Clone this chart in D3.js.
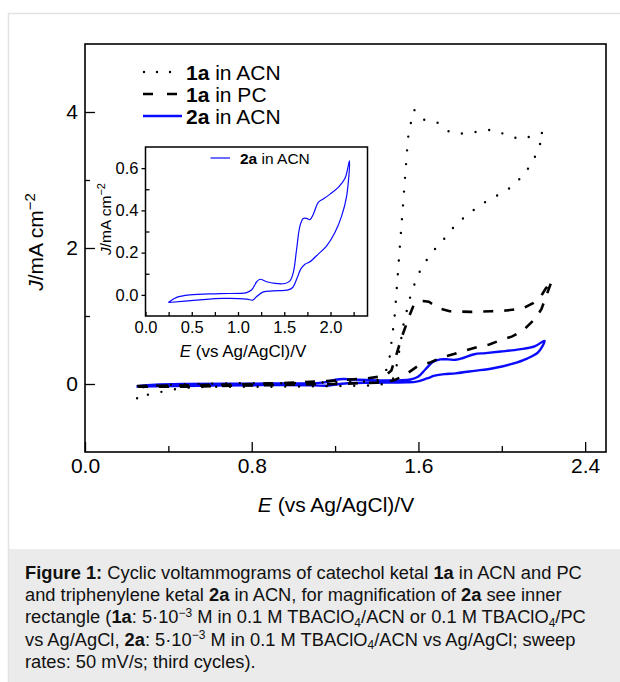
<!DOCTYPE html>
<html>
<head>
<meta charset="utf-8">
<script src="https://cdn.jsdelivr.net/npm/d3@7"></script>
<style>
  html, body { margin: 0; padding: 0; background: #fff; }
  svg { display: block; font-family: "Liberation Sans", Arial, sans-serif; }
</style>
</head>
<body>
<svg id="chart" width="620" height="682"></svg>
<script>
// ---------- DATA ----------
// 1a in ACN (dotted) : forward then reverse scan
const acnE = [0.25,0.27,0.35,0.5,0.7,0.9,1.1,1.3,1.40,1.44,1.46,1.47,1.485,1.49,1.50,1.51,1.52,1.53,1.54,1.55,1.563,1.58,1.623,1.688,1.752,1.819,1.885,1.952,2.018,2.085,2.152,2.20,
              2.181,2.152,2.107,2.043,1.976,1.911,1.843,1.778,1.722,1.664,1.616,1.586,1.563,1.546,1.53,1.515,1.50,1.485,1.47,1.40,1.2,0.9,0.6,0.509,0.443,0.376,0.308,0.251];
const acnJ = [-0.21,-0.05,-0.02,0.0,0.01,0.01,0.02,0.03,0.05,0.15,0.35,0.6,0.97,1.16,1.57,1.99,2.39,2.80,3.21,3.62,3.83,4.03,3.89,3.85,3.70,3.68,3.71,3.74,3.67,3.60,3.65,3.70,
              3.50,3.29,3.08,2.89,2.77,2.66,2.51,2.34,2.13,1.93,1.72,1.51,1.31,1.10,0.91,0.62,0.34,0.12,0.03,-0.02,-0.03,-0.04,-0.04,-0.05,-0.07,-0.11,-0.15,-0.21];

// 1a in PC (dashed)
const pcE = [0.25,0.5,0.8,1.0,1.2,1.35,1.44,1.47,1.49,1.52,1.54,1.56,1.58,1.62,1.65,1.70,1.75,1.85,1.95,2.02,2.10,2.15,2.19,2.21,2.24,
             2.19,2.16,2.10,2.05,1.99,1.94,1.88,1.82,1.77,1.71,1.66,1.60,1.53,1.48,1.40,1.2,0.8,0.5,0.25];
const pcJ = [-0.03,-0.02,0.0,0.02,0.05,0.08,0.12,0.2,0.39,0.69,0.86,1.03,1.18,1.22,1.21,1.11,1.07,1.06,1.07,1.08,1.11,1.19,1.30,1.40,1.52,
             1.10,0.96,0.78,0.70,0.64,0.58,0.54,0.49,0.44,0.39,0.32,0.27,0.12,0.05,0.02,0.0,-0.02,-0.04,-0.04];

// 2a in ACN (solid blue) - also shown in the inset
const triE = [0.247,0.337,0.481,0.805,1.094,1.148,1.202,1.238,1.31,1.40,1.508,1.562,1.598,1.634,1.670,1.706,1.742,1.778,1.814,1.868,1.922,1.995,2.084,2.157,2.205,
              2.175,2.121,2.049,1.959,1.868,1.778,1.724,1.678,1.641,1.591,1.544,1.382,1.274,1.202,1.159,1.094,0.841,0.553,0.247];
const triJ = [-0.036,-0.012,0.0,0.006,0.011,0.024,0.062,0.074,0.062,0.054,0.054,0.066,0.106,0.217,0.327,0.362,0.362,0.356,0.382,0.438,0.454,0.477,0.509,0.552,0.635,
              0.469,0.374,0.296,0.232,0.193,0.157,0.145,0.122,0.082,0.035,0.024,0.019,0.014,-0.008,-0.025,-0.020,-0.017,-0.025,-0.036];

const mainXTicks = [0, 0.8, 1.6, 2.4];
const mainXMinor = [0.4, 1.2, 2.0];
const mainYTicks = [0, 2, 4];
const mainYMinor = [1, 3];
const insetXTicks = [0, 0.5, 1.0, 1.5, 2.0];
const insetXMinor = [0.25, 0.75, 1.25, 1.75, 2.25];
const insetYTicks = [0, 0.2, 0.4, 0.6];
const insetYMinor = [0.1, 0.3, 0.5];

// ---------- DRAW ----------
const svg = d3.select("#chart");

// page frame
svg.append("rect").attr("x",0).attr("y",0).attr("width",620).attr("height",682).attr("fill","#fff");
svg.append("rect").attr("x",9).attr("y",549).attr("width",611).attr("height",133).attr("fill","#ebebeb");
svg.append("line").attr("x1",8).attr("x2",620).attr("y1",13.5).attr("y2",13.5).attr("stroke","#e2e2e2").attr("stroke-width",1.5);
svg.append("line").attr("x1",8.5).attr("x2",8.5).attr("y1",13).attr("y2",682).attr("stroke","#e2e2e2").attr("stroke-width",1.5);

// main scales
const x = d3.scaleLinear().domain([0, 2.5]).range([85, 606]);
const y = d3.scaleLinear().domain([-1, 5]).range([452, 44]);

const zip = (E, J) => E.map((e, i) => [e, J[i]]);
const lineMain = d3.line().x(d => x(d[0])).y(d => y(d[1]));

const plot = svg.append("g");
plot.append("path").datum(zip(triE, triJ))
  .attr("d", lineMain.curve(d3.curveCatmullRom.alpha(0.5)))
  .attr("fill","none").attr("stroke","#0a0aff").attr("stroke-width",2.4);
plot.append("path")
  .attr("d", d3.line().x(d => x(d[0])).y(d => y(d[1]))(zip(pcE, pcJ)))
  .attr("fill","none").attr("stroke","#000").attr("stroke-width",2.6)
  .attr("stroke-dasharray","10,11");
plot.append("path")
  .attr("d", d3.line().x(d => x(d[0])).y(d => y(d[1]))(zip(acnE, acnJ)))
  .attr("fill","none").attr("stroke","#000").attr("stroke-width",2.4)
  .attr("stroke-linecap","round").attr("stroke-dasharray","0,13.8");

// main axes
const fsMain = 21;
function styleAxis(g, fs) {
  g.select(".domain").remove();
  g.selectAll("line").attr("stroke","#000").attr("stroke-width",1.3);
  g.selectAll("text").attr("font-size", fs).attr("fill","#000")
    .attr("font-family","'Liberation Sans', Arial, sans-serif");
}
const xAxis = svg.append("g").attr("transform","translate(0,452)")
  .call(d3.axisBottom(x).tickValues(mainXTicks).tickSize(-10).tickPadding(6).tickFormat(d3.format(".1f")));
styleAxis(xAxis, fsMain);
svg.append("g").attr("transform","translate(0,452)")
  .call(d3.axisBottom(x).tickValues(mainXMinor).tickSize(-6).tickFormat(""))
  .call(g => styleAxis(g, fsMain));
const yAxis = svg.append("g").attr("transform","translate(85,0)")
  .call(d3.axisLeft(y).tickValues(mainYTicks).tickSize(-10).tickPadding(7).tickFormat(d3.format("d")));
styleAxis(yAxis, fsMain);
svg.append("g").attr("transform","translate(85,0)")
  .call(d3.axisLeft(y).tickValues(mainYMinor).tickSize(-5).tickFormat(""))
  .call(g => styleAxis(g, fsMain));

svg.append("rect").attr("x",85).attr("y",44).attr("width",521).attr("height",408)
  .attr("fill","none").attr("stroke","#000").attr("stroke-width",1.6);

// main axis titles
const xt = svg.append("text").attr("x",336).attr("y",512).attr("text-anchor","middle").attr("font-size",fsMain);
xt.append("tspan").attr("font-style","italic").text("E");
xt.append("tspan").text(" (vs Ag/AgCl)/V");
const yt = svg.append("text").attr("transform","translate(43,242) rotate(-90)").attr("text-anchor","middle").attr("font-size",fsMain);
yt.append("tspan").attr("font-style","italic").text("J");
yt.append("tspan").text("/mA cm");
yt.append("tspan").attr("font-size",15).attr("dy",-8).text("\u22122");

// legend
const leg = svg.append("g");
const legRows = [
  {y:72, bold:"1a", rest:" in ACN", type:"dot"},
  {y:94, bold:"1a", rest:" in PC", type:"dash"},
  {y:116, bold:"2a", rest:" in ACN", type:"solid"}
];
legRows.forEach(r => {
  const l = leg.append("line").attr("y1",r.y).attr("y2",r.y).attr("fill","none");
  if (r.type === "dot") {
    l.attr("x1",144).attr("x2",172).attr("stroke","#000").attr("stroke-width",2.4)
     .attr("stroke-linecap","round").attr("stroke-dasharray","0,13");
  } else if (r.type === "dash") {
    l.attr("x1",143).attr("x2",177).attr("stroke","#000").attr("stroke-width",2.6).attr("stroke-dasharray","10,14");
  } else {
    l.attr("x1",143).attr("x2",182).attr("stroke","#0a0aff").attr("stroke-width",2.4);
  }
  const t = leg.append("text").attr("x",186).attr("y",r.y+7.5).attr("font-size",fsMain);
  t.append("tspan").attr("font-weight","bold").text(r.bold);
  t.append("tspan").text(r.rest);
});

// ---------- INSET ----------
const xi = d3.scaleLinear().domain([0, 2.4]).range([145.5, 367.5]);
const yi = d3.scaleLinear().domain([-0.1, 0.7]).range([316, 147]);
const fsIn = 16.5;
svg.append("rect").attr("x",145.5).attr("y",147).attr("width",222).attr("height",169).attr("fill","#fff");
svg.append("path").datum(zip(triE, triJ))
  .attr("d", d3.line().x(d => xi(d[0])).y(d => yi(d[1])).curve(d3.curveCatmullRom.alpha(0.5)))
  .attr("fill","none").attr("stroke","#0a0aff").attr("stroke-width",1.2);

const xiAxis = svg.append("g").attr("transform","translate(0,316)")
  .call(d3.axisBottom(xi).tickValues(insetXTicks).tickSize(-4).tickPadding(5).tickFormat(d3.format(".1f")));
styleAxis(xiAxis, fsIn);
svg.append("g").attr("transform","translate(0,316)")
  .call(d3.axisBottom(xi).tickValues(insetXMinor).tickSize(-4).tickFormat(""))
  .call(g => styleAxis(g, fsIn));
const yiAxis = svg.append("g").attr("transform","translate(145.5,0)")
  .call(d3.axisLeft(yi).tickValues(insetYTicks).tickSize(4).tickPadding(3).tickFormat(d3.format(".1f")));
styleAxis(yiAxis, fsIn);
svg.append("g").attr("transform","translate(145.5,0)")
  .call(d3.axisLeft(yi).tickValues(insetYMinor).tickSize(-4).tickFormat(""))
  .call(g => styleAxis(g, fsIn));
svg.append("rect").attr("x",145.5).attr("y",147).attr("width",222).attr("height",169)
  .attr("fill","none").attr("stroke","#000").attr("stroke-width",1.5);

const xit = svg.append("text").attr("x",243).attr("y",357).attr("text-anchor","middle").attr("font-size",17);
xit.append("tspan").attr("font-style","italic").text("E");
xit.append("tspan").text(" (vs Ag/AgCl)/V");
const yit = svg.append("text").attr("transform","translate(111,219) rotate(-90)").attr("text-anchor","middle").attr("font-size",15.5);
yit.append("tspan").attr("font-style","italic").text("J");
yit.append("tspan").text("/mA cm");
yit.append("tspan").attr("font-size",11).attr("dy",-6).text("\u22122");

svg.append("line").attr("x1",210.5).attr("x2",230).attr("y1",158).attr("y2",158)
  .attr("stroke","#0a0aff").attr("stroke-width",1.2);
const ilt = svg.append("text").attr("x",240).attr("y",163.5).attr("font-size",15.5);
ilt.append("tspan").attr("font-weight","bold").text("2a");
ilt.append("tspan").text(" in ACN");

// ---------- CAPTION ----------
const capLines = [
  [["b","Figure 1:"],["n"," Cyclic voltammograms of catechol ketal "],["b","1a"],["n"," in ACN and PC"]],
  [["n","and triphenylene ketal "],["b","2a"],["n"," in ACN, for magnification of "],["b","2a"],["n"," see inner"]],
  [["n","rectangle ("],["b","1a"],["n",": 5\u00b710"],["sup","\u22123"],["n"," M in 0.1 M TBAClO"],["sub","4"],["n","/ACN or 0.1 M TBAClO"],["sub","4"],["n","/PC"]],
  [["n","vs Ag/AgCl, "],["b","2a"],["n",": 5\u00b710"],["sup","\u22123"],["n"," M in 0.1 M TBAClO"],["sub","4"],["n","/ACN vs Ag/AgCl; sweep"]],
  [["n","rates: 50 mV/s; third cycles)."]]
];
const capFs = 18.3;
capLines.forEach((parts, i) => {
  const t = svg.append("text").attr("x",25).attr("y",579 + i*22.2).attr("font-size",capFs).attr("fill","#111");
  let shift = 0;
  parts.forEach(([k, s]) => {
    const sp = t.append("tspan").text(s);
    let target = 0;
    if (k === "b") sp.attr("font-weight","bold");
    if (k === "sup") { sp.attr("font-size",12); target = -6.5; }
    if (k === "sub") { sp.attr("font-size",12); target = 3.5; }
    sp.attr("dy", target - shift);
    shift = target;
  });
});
</script>
</body>
</html>
